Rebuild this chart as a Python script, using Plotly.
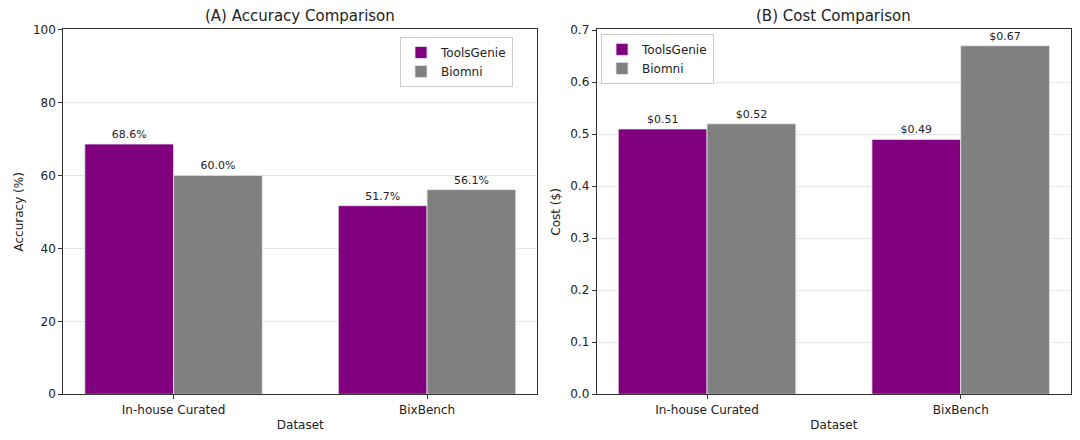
import plotly.graph_objects as go
from plotly.subplots import make_subplots

datasets = ["In-house Curated", "BixBench"]
series_names = ["ToolsGenie", "Biomni"]
accuracy_toolsgenie = [68.6, 51.7]
accuracy_biomni = [60.0, 56.1]
cost_toolsgenie = [0.51, 0.49]
cost_biomni = [0.52, 0.67]
colors = ["#800080", "#808080"]

FONT = "DejaVu Sans"

fig = make_subplots(rows=1, cols=2, horizontal_spacing=0.06)

acc = [accuracy_toolsgenie, accuracy_biomni]
cst = [cost_toolsgenie, cost_biomni]

for i, name in enumerate(series_names):
    fig.add_trace(go.Bar(
        x=datasets, y=acc[i], name=name,
        marker=dict(color=colors[i], line=dict(color="#e6e6e6", width=0.8)),
        text=[f"{v:.1f}%" for v in acc[i]], textposition="outside",
        textfont=dict(family=FONT, size=11, color="#222"),
        cliponaxis=False, legend="legend",
    ), row=1, col=1)

for i, name in enumerate(series_names):
    fig.add_trace(go.Bar(
        x=datasets, y=cst[i], name=name,
        marker=dict(color=colors[i], line=dict(color="#e6e6e6", width=0.8)),
        text=[f"${v:.2f}" for v in cst[i]], textposition="outside",
        textfont=dict(family=FONT, size=11, color="#222"),
        cliponaxis=False, legend="legend2",
    ), row=1, col=2)

axis_common = dict(
    showline=True, linecolor="#333", linewidth=1, mirror=True,
    ticks="outside", ticklen=4, tickcolor="#333",
    tickfont=dict(family=FONT, size=12, color="#222"),
    title_font=dict(family=FONT, size=12, color="#222"),
    zeroline=False, automargin=False,
)

fig.update_xaxes(**axis_common, showgrid=False, range=[-0.435, 1.435],
                 title_text="Dataset", title_standoff=4)
fig.update_xaxes(domain=[0.0586, 0.4975], row=1, col=1)
fig.update_xaxes(domain=[0.5525, 0.9917], row=1, col=2)

fig.update_yaxes(**axis_common, showgrid=True, gridcolor="rgba(176,176,176,0.3)", gridwidth=1,
                 domain=[0.1039, 0.933])
fig.update_yaxes(range=[0, 100], dtick=20, title_text="Accuracy (%)", title_standoff=6, row=1, col=1)
fig.update_yaxes(range=[0, 0.7013], dtick=0.1, tickformat=".1f", title_text="Cost ($)",
                 title_standoff=6, row=1, col=2)

legend_common = dict(
    bgcolor="rgba(255,255,255,0.8)", bordercolor="#cccccc", borderwidth=1,
    font=dict(family=FONT, size=12, color="#222"),
    itemwidth=30, tracegroupgap=0,
)

fig.update_layout(
    barmode="group", bargap=0.3, bargroupgap=0,
    width=1080, height=440,
    margin=dict(l=0, r=0, t=0, b=0, autoexpand=False),
    paper_bgcolor="white", plot_bgcolor="white",
    font=dict(family=FONT, color="#222"),
    legend=dict(**legend_common, x=0.475, y=0.916, xanchor="right", yanchor="top"),
    legend2=dict(**legend_common, x=0.5565, y=0.923, xanchor="left", yanchor="top"),
    annotations=[
        dict(text="(A) Accuracy Comparison", x=0.278, y=1 - 16 / 440, xref="paper", yref="paper",
             xanchor="center", yanchor="middle", showarrow=False,
             font=dict(family=FONT, size=15, color="#222")),
        dict(text="(B) Cost Comparison", x=0.772, y=1 - 16 / 440, xref="paper", yref="paper",
             xanchor="center", yanchor="middle", showarrow=False,
             font=dict(family=FONT, size=15, color="#222")),
    ],
)

fig.write_html("out.html", config={"displayModeBar": False},
               post_script="document.body.style.margin='0';")
